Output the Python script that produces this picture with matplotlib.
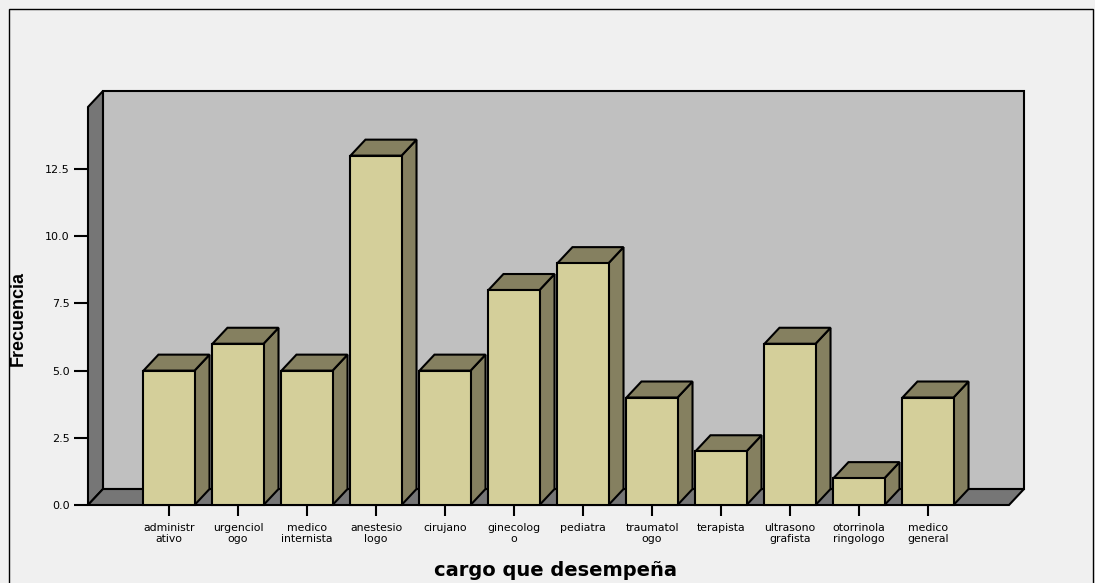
import matplotlib.pyplot as plt
from matplotlib.patches import Polygon, Rectangle

# frequency per job title
cargos = ['administr\nativo', 'urgenciol\nogo', 'medico\ninternista', 'anestesio\nlogo',
          'cirujano', 'ginecolog\no', 'pediatra', 'traumatol\nogo', 'terapista',
          'ultrasono\ngrafista', 'otorrinola\nringologo', 'medico\ngeneral']
frecuencia = [5, 6, 5, 13, 5, 8, 9, 4, 2, 6, 1, 4]
yticks = [0.0, 2.5, 5.0, 7.5, 10.0, 12.5]

# 3d look: depth offsets in data units
dx, dy = 0.217, 0.595
width = 0.74
x_left, x_right = -1.174, 12.174
top = 14.81

front_col = '#d4cf9a'
shade_col = '#858060'
wall_col = '#c0c0c0'
floor_col = '#767676'
bg = '#f0f0f0'

fig = plt.figure(figsize=(10.95, 5.83), dpi=100, facecolor=bg)
ax = fig.add_axes([88 / 1095, 78 / 583, 936 / 1095, 414 / 583])
ax.set_facecolor('none')
ax.set_xlim(x_left, x_right + dx)
ax.set_ylim(0, top + dy)
for s in ax.spines.values():
    s.set_visible(False)

lw = 1.5


def face(pts, color, z):
    ax.add_patch(Polygon(pts, closed=True, fc=color, ec='black', lw=lw, zorder=z,
                         clip_on=False, joinstyle='miter'))


# back wall, left wall and floor
face([(x_left + dx, dy), (x_right + dx, dy), (x_right + dx, top + dy), (x_left + dx, top + dy)], wall_col, 1)
face([(x_left, 0), (x_left + dx, dy), (x_left + dx, top + dy), (x_left, top)], floor_col, 2)
face([(x_left, 0), (x_right, 0), (x_right + dx, dy), (x_left + dx, dy)], floor_col, 2)

# bars
for i, v in enumerate(frecuencia):
    x0 = i - width / 2
    x1 = i + width / 2
    face([(x1, 0), (x1 + dx, dy), (x1 + dx, v + dy), (x1, v)], shade_col, 3)
    face([(x0, v), (x0 + dx, v + dy), (x1 + dx, v + dy), (x1, v)], shade_col, 3)
    face([(x0, 0), (x1, 0), (x1, v), (x0, v)], front_col, 4)

ax.set_xticks(range(len(cargos)))
ax.set_xticklabels(cargos, fontsize=7.8, family='DejaVu Sans', linespacing=1.1)
ax.set_yticks(yticks)
ax.set_yticklabels(['%.1f' % t for t in yticks], fontsize=8, family='DejaVu Sans')
ax.tick_params(axis='both', direction='out', width=1.5, color='black')
ax.tick_params(axis='x', length=8, pad=5)
ax.tick_params(axis='y', length=10, pad=3)

ax.set_xlabel('cargo que desempeña', fontsize=14, fontweight='bold', family='DejaVu Sans', labelpad=12)
fig.text(18 / 1095, 1 - 318 / 583, 'Frecuencia', rotation=90, ha='center', va='center',
         fontsize=13, fontweight='bold', family=['Liberation Sans Narrow', 'Liberation Sans'])

# outer frame
fig.patches.append(Rectangle((9 / 1095, -0.01), 1084 / 1095, 1 - 9 / 583 + 0.01, transform=fig.transFigure,
                             fill=False, ec='black', lw=1))

fig.savefig('out.png', dpi=100, facecolor=bg)
